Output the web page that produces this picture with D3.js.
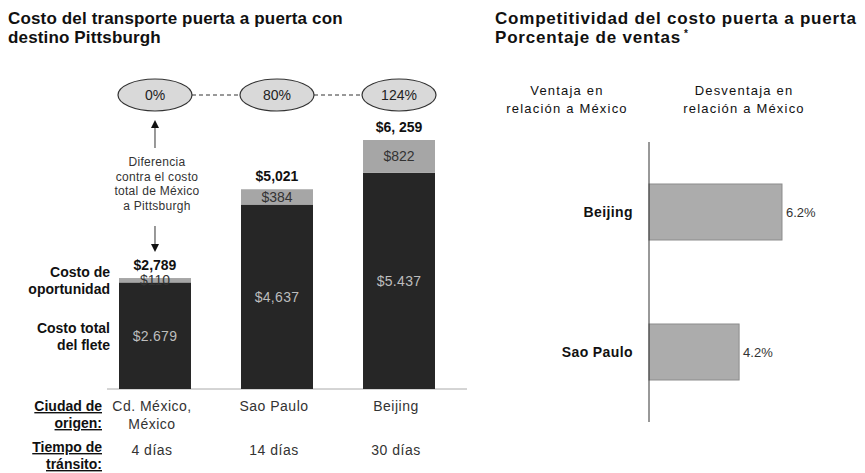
<!DOCTYPE html>
<html>
<head>
<meta charset="utf-8">
<script src="https://cdn.jsdelivr.net/npm/d3@7"></script>
<style>
  body { margin: 0; background: #fff; }
  svg { font-family: "Liberation Sans", Arial, sans-serif; }
</style>
</head>
<body>
<svg id="chart" width="865" height="473"></svg>
<script>
// left chart data
const ciudades = ['Cd. México', 'Sao Paulo', 'Beijing'];
const origenLabels = [['Cd. México,', 'México'], ['Sao Paulo'], ['Beijing']];
const transito = ['4 días', '14 días', '30 días'];
const flete = [2679, 4637, 5437];
const oportunidad = [110, 384, 822];
const fleteLabels = ['$2.679', '$4,637', '$5.437'];
const oportunidadLabels = ['$110', '$384', '$822'];
const totalLabels = ['$2,789', '$5,021', '$6, 259'];
const diferencia = ['0%', '80%', '124%'];

// right chart data
const competidores = ['Beijing', 'Sao Paulo'];
const desventaja = [6.2, 4.2];

const svg = d3.select('#chart');

// titles
const t1 = svg.append('text').attr('x', 8).attr('y', 24)
    .attr('font-size', 17).attr('font-weight', 'bold').attr('letter-spacing', 0.15)
    .attr('fill', '#111');
t1.append('tspan').attr('x', 8).text('Costo del transporte puerta a puerta con');
t1.append('tspan').attr('x', 8).attr('dy', 19).text('destino Pittsburgh');

const t2 = svg.append('text').attr('x', 495).attr('y', 24)
    .attr('font-size', 17).attr('font-weight', 'bold').attr('letter-spacing', 0.8)
    .attr('fill', '#111');
t2.append('tspan').attr('x', 495).text('Competitividad del costo puerta a puerta');
t2.append('tspan').attr('x', 495).attr('dy', 19).text('Porcentaje de ventas');
t2.append('tspan').attr('dx', 3).attr('dy', -6).attr('font-size', 10).text('*');

// ---- left: stacked bars
const x = d3.scaleBand().domain(ciudades).range([119, 435]).paddingInner(0.41).paddingOuter(0);
const y = d3.scaleLinear().domain([0, 6259]).range([389, 140]);
const cx = d => x(d) + x.bandwidth() / 2;

const data = ciudades.map((c, i) => ({
  c: c, flete: flete[i], op: oportunidad[i], total: flete[i] + oportunidad[i]
}));

// baseline
svg.append('line').attr('x1', 107).attr('x2', 467)
    .attr('y1', y(0)).attr('y2', y(0)).attr('stroke', '#aaa');

svg.selectAll('.flete').data(data).enter().append('rect')
    .attr('x', d => x(d.c)).attr('width', x.bandwidth())
    .attr('y', d => y(d.flete)).attr('height', d => y(0) - y(d.flete))
    .attr('fill', '#262626');

svg.selectAll('.op').data(data).enter().append('rect')
    .attr('x', d => x(d.c)).attr('width', x.bandwidth())
    .attr('y', d => y(d.total)).attr('height', d => y(d.flete) - y(d.total))
    .attr('fill', '#a6a6a6');

// value labels
svg.selectAll('.flab').data(data).enter().append('text')
    .attr('x', d => cx(d.c)).attr('y', d => (y(d.flete) + y(0)) / 2 + 5)
    .attr('text-anchor', 'middle').attr('font-size', 14).attr('letter-spacing', 0.3)
    .attr('fill', '#bdbdbd')
    .text((d, i) => fleteLabels[i]);

svg.selectAll('.olab').data(data).enter().append('text')
    .attr('x', d => cx(d.c)).attr('y', d => (y(d.flete) + y(d.total)) / 2 + 5)
    .attr('text-anchor', 'middle').attr('font-size', 14).attr('fill', '#333')
    .text((d, i) => oportunidadLabels[i]);

svg.selectAll('.tlab').data(data).enter().append('text')
    .attr('x', d => cx(d.c)).attr('y', d => y(d.total) - 8)
    .attr('text-anchor', 'middle').attr('font-size', 14).attr('font-weight', 'bold')
    .attr('fill', '#111')
    .text((d, i) => totalLabels[i]);

// ellipses with % difference
const ey = 95;
ciudades.forEach((c, i) => {
  if (i > 0) {
    svg.append('line')
        .attr('x1', cx(ciudades[i - 1]) + 37).attr('x2', cx(c) - 37)
        .attr('y1', ey).attr('y2', ey)
        .attr('stroke', '#333').attr('stroke-dasharray', '4,3');
  }
});
svg.selectAll('.ell').data(ciudades).enter().append('ellipse')
    .attr('cx', d => cx(d)).attr('cy', ey).attr('rx', 37).attr('ry', 16)
    .attr('fill', '#d9d9d9').attr('stroke', '#333').attr('stroke-width', 1.2);
svg.selectAll('.elab').data(ciudades).enter().append('text')
    .attr('x', d => cx(d)).attr('y', ey + 5)
    .attr('text-anchor', 'middle').attr('font-size', 14).attr('fill', '#222')
    .text((d, i) => diferencia[i]);

// annotation with arrows
const ax = cx(ciudades[0]);
svg.append('line').attr('x1', ax).attr('x2', ax).attr('y1', 148).attr('y2', 126)
    .attr('stroke', '#333');
svg.append('path').attr('d', `M${ax},120 L${ax - 4},128 L${ax + 4},128 Z`).attr('fill', '#111');
svg.append('line').attr('x1', ax).attr('x2', ax).attr('y1', 226).attr('y2', 246)
    .attr('stroke', '#333');
svg.append('path').attr('d', `M${ax},252 L${ax - 4},244 L${ax + 4},244 Z`).attr('fill', '#111');

const nota = ['Diferencia', 'contra el costo', 'total de México', 'a Pittsburgh'];
svg.append('text').attr('text-anchor', 'middle').attr('font-size', 12)
    .attr('letter-spacing', 0.3).attr('fill', '#333')
    .selectAll('tspan').data(nota).enter().append('tspan')
    .attr('x', ax + 2).attr('y', (d, i) => 166 + i * 14.5).text(d => d);

// row labels on the left
function rowLabel(lines, yy, underline) {
  const t = svg.append('text').attr('text-anchor', 'end').attr('font-size', 14)
      .attr('font-weight', 'bold').attr('fill', '#111');
  lines.forEach((l, i) => {
    t.append('tspan').attr('x', underline ? 102 : 110).attr('y', yy + i * 17)
        .attr('text-decoration', underline ? 'underline' : null).text(l);
  });
}
rowLabel(['Costo de', 'oportunidad'], 277, false);
rowLabel(['Costo total', 'del flete'], 333, false);
rowLabel(['Ciudad de', 'origen:'], 411, true);
rowLabel(['Tiempo de', 'tránsito:'], 452, true);

// category labels under the bars
origenLabels.forEach((lines, i) => {
  const t = svg.append('text').attr('text-anchor', 'middle').attr('font-size', 14)
      .attr('letter-spacing', 0.5).attr('fill', '#333');
  lines.forEach((l, j) => {
    t.append('tspan').attr('x', cx(ciudades[i]) - 3).attr('y', 411 + j * 17.5).text(l);
  });
});
svg.selectAll('.tr').data(transito).enter().append('text')
    .attr('x', (d, i) => cx(ciudades[i]) - 3).attr('y', 455)
    .attr('text-anchor', 'middle').attr('font-size', 14).attr('letter-spacing', 0.5)
    .attr('fill', '#333')
    .text(d => d);

// ---- right: horizontal bars
const xr = d3.scaleLinear().domain([0, 8]).range([649, 649 + 8 * 21.45]);
const yr = d3.scaleBand().domain(competidores).range([142, 422])
    .paddingInner(0.6).paddingOuter(0.3);

const hdr = [['Ventaja en', 'relación a México', 567], ['Desventaja en', 'relación a México', 744]];
hdr.forEach(h => {
  const t = svg.append('text').attr('text-anchor', 'middle').attr('font-size', 13)
      .attr('letter-spacing', 1.2).attr('fill', '#111');
  t.append('tspan').attr('x', h[2]).attr('y', 95).text(h[0]);
  t.append('tspan').attr('x', h[2]).attr('y', 113).text(h[1]);
});

svg.selectAll('.hbar').data(competidores).enter().append('rect')
    .attr('x', xr(0)).attr('y', d => yr(d))
    .attr('width', (d, i) => xr(desventaja[i]) - xr(0)).attr('height', yr.bandwidth())
    .attr('fill', '#acacac').attr('stroke', '#8c8c8c');

svg.append('line').attr('x1', xr(0)).attr('x2', xr(0)).attr('y1', 142).attr('y2', 422)
    .attr('stroke', '#333');

svg.selectAll('.hlab').data(competidores).enter().append('text')
    .attr('x', xr(0) - 16).attr('y', d => yr(d) + yr.bandwidth() / 2 + 5)
    .attr('text-anchor', 'end').attr('font-size', 14).attr('font-weight', 'bold')
    .attr('letter-spacing', 0.4).attr('fill', '#111')
    .text(d => d);

svg.selectAll('.hval').data(competidores).enter().append('text')
    .attr('x', (d, i) => xr(desventaja[i]) + 4).attr('y', d => yr(d) + yr.bandwidth() / 2 + 5)
    .attr('font-size', 13).attr('fill', '#333')
    .text((d, i) => desventaja[i].toFixed(1) + '%');
</script>
</body>
</html>
